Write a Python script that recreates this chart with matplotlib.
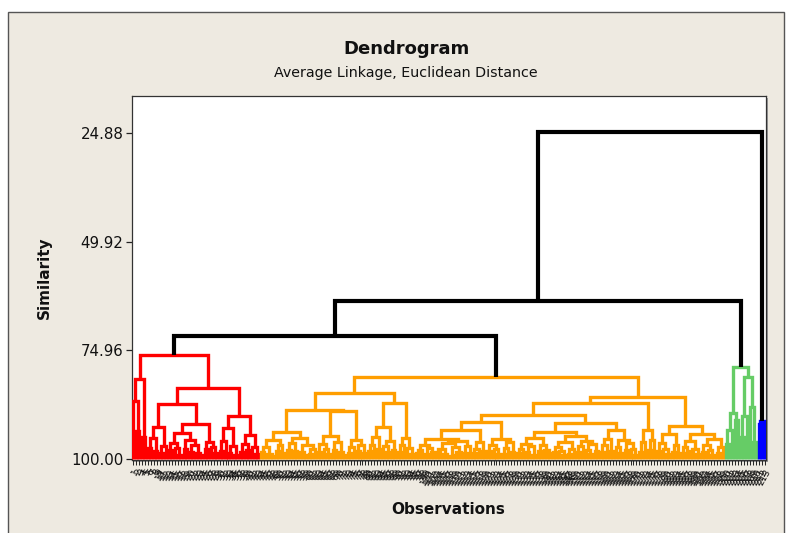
import matplotlib
matplotlib.use("Agg")
import matplotlib.pyplot as plt
from matplotlib.patches import Rectangle


def p(h):
    # two leaves joined at similarity h
    return (h, 0, 0)


# ---- cluster trees: (similarity, left, right), 0 = one observation ----
red_tree = (76.0,
            (81.5, (86.6, 0, (93.5, 0, 0)), (95.0, 0, 0)),
            (83.6,
             (87.3,
              (92.7, (95.2, p(97.5), p(98.2)), (97.1, p(98.6), 0)),
              (92.0,
               (94.0, (96.3, p(98.0), (97.4, 0, p(99.0))),
                (95.6, p(97.8), (96.9, p(98.4), (98.7, 0, p(99.1))))),
               (96.1, p(97.7), (97.3, 0, p(98.6))))),
             (90.2,
              (92.9, (95.8, p(98.1), 0), (97.0, p(98.7), p(99.2))),
              (94.4, (96.5, p(98.5), p(97.9)), (97.3, 0, p(98.8))))))

orange_x = (93.9,
            (95.6, (97.2, p(98.4), (98.9, 0, p(99.3))), (96.8, p(98.2), 0)),
            (95.1, (96.4, (97.9, p(98.6), 0), p(98.1)),
             (96.9, (98.3, 0, p(99.0)), (97.6, p(98.8), 0))))
orange_y = (94.8, (96.6, p(98.3), (97.7, 0, p(98.9))), (96.2, p(97.9), (98.5, 0, p(99.2))))
orange_z = (95.6, (97.3, p(98.6), 0), (96.9, p(98.1), p(98.7)))
orange_olb = (87.1,
              (92.6, (95.0, (96.8, p(98.2), 0), p(97.6)), (95.9, (97.1, 0, p(98.5)), p(98.0))),
              (95.1, (96.9, p(98.4), 0), (97.5, 0, p(98.8))))
orange_left = (84.8, (88.7, orange_x, (88.9, orange_y, orange_z)), orange_olb)

orange_a = (95.4,
            (96.8, (97.9, p(98.6), 0), (97.4, p(98.9), p(98.3))),
            (95.9, (96.3, (97.7, p(98.5), (98.9, 0, p(99.3))), (97.2, 0, (98.4, p(99.0), 0))),
             (97.0, p(98.6), 0)))
orange_b = (96.1, (97.8, p(98.7), 0), p(98.2))
orange_c = (95.4, (96.7, p(98.1), (97.6, 0, p(98.8))), (96.2, (97.4, p(98.9), 0), p(98.4)))
orange_d = (93.9,
            (95.2, (96.5, (97.8, p(98.6), 0), (97.1, p(98.3), p(99.0))),
             (96.8, p(98.1), (97.9, 0, p(98.7)))),
            (94.6, (96.0, (97.3, p(98.5), (98.2, 0, p(99.1))), (97.6, p(98.8), 0)),
             (95.8, (97.0, p(98.4), 0), (96.6, (97.9, 0, p(98.9)), p(98.2)))))
orange_e = (93.3, (95.3, (96.9, p(98.4), 0), p(98.1)),
            (95.7, (97.2, 0, p(98.6)), (96.4, p(98.0), (97.8, 0, p(99.0)))))
orange_f = (93.3, (96.2, p(98.3), 0), (95.6, p(97.9), 0))
orange_g = (94.3, (96.4, p(98.2), (97.7, 0, p(98.8))), (96.9, p(98.5), 0))
orange_h = (94.3, (95.9, (97.2, p(98.6), 0), (97.6, p(98.1), p(98.9))),
            (95.5, (96.8, p(98.3), (98.0, 0, p(99.1))), (97.3, p(98.7), 0)))
orange_right = (85.7,
                (87.0,
                 (89.9, (91.6, (93.3, orange_a, orange_b), orange_c),
                  (91.8, orange_d, orange_e)),
                 orange_f),
                (92.5, orange_g, orange_h))
orange_tree = (81.1, orange_left, orange_right)

green_tree = (78.8,
              (89.3, (93.3, p(96.5), 0), (91.0, 0, 0)),
              (81.0, (90.0, p(95.0), 0), (88.0, 0, p(96.0))))
blue_tree = (91.2, p(92.0), 0)

clusters = [red_tree, orange_tree, green_tree, blue_tree]
cluster_colors = ["#FF0000", "#FF9E00", "#66CC66", "#0000FF"]
# similarity of the black joins: red+orange, +green, +blue
black_joins = [71.6, 63.6, 24.5]

y_ticks = [24.88, 49.92, 74.96, 100.00]


fig = plt.figure(figsize=(7.92, 5.33), dpi=100)
fig.patch.set_facecolor("white")
fig.patches.append(Rectangle((7.5 / 792, -0.02), 776 / 792, 1.02 - 11.5 / 533,
                             transform=fig.transFigure, facecolor="#EEEAE1",
                             edgecolor="#555555", lw=1.0, zorder=-2))
# shadow behind the plot area
fig.patches.append(Rectangle((134 / 792, 1 - 462 / 533), 634.3 / 792, 364 / 533,
                             transform=fig.transFigure, facecolor="#9a9a9a",
                             edgecolor="none", zorder=-1))

ax = fig.add_axes([131.7 / 792, 1 - 460 / 533, 634.3 / 792, 364 / 533])
ax.set_zorder(1)
ax.set_facecolor("white")

counter = [0]


def draw(node, color, lw):
    if node == 0:
        x = counter[0]
        counter[0] += 1
        return x, 100.0
    h, a, b = node
    xa, ha = draw(a, color, lw)
    xb, hb = draw(b, color, lw)
    ax.plot([xa, xa, xb, xb], [ha, h, h, hb], color=color, lw=lw,
            solid_joinstyle="miter", solid_capstyle="butt", zorder=3)
    return (xa + xb) / 2, h


roots = []
for tree, col in zip(clusters, cluster_colors):
    roots.append(draw(tree, col, 2.4))

# black links above the clusters
x0, h0 = roots[0]
for (x1, h1), hj in zip(roots[1:], black_joins):
    ax.plot([x0, x0, x1, x1], [h0, hj, hj, h1], color="black", lw=3.0,
            solid_joinstyle="miter", solid_capstyle="butt", zorder=4)
    x0, h0 = (x0 + x1) / 2, hj

n_obs = counter[0]
obs_labels = [str(i) for i in range(1, n_obs + 1)]

ax.set_xlim(-0.5, n_obs - 0.5)
ax.set_ylim(100.25, 16.3)
ax.set_yticks(y_ticks)
ax.set_yticklabels(["%.2f" % v for v in y_ticks], fontsize=10.8, color="#111111")
ax.set_xticks(range(n_obs))
ax.set_xticklabels(obs_labels, rotation=60, ha="right", rotation_mode="anchor",
                   fontsize=6.5, color="#111111")
ax.tick_params(axis="y", length=4.5, width=0.9, pad=1.5, color="#222222")
ax.tick_params(axis="x", length=3.5, width=0.7, pad=2, color="#222222")
for s in ax.spines.values():
    s.set_color("#333333")
    s.set_linewidth(0.9)

fig.text(0.513, 1 - 49 / 533, "Dendrogram", ha="center", va="center",
         fontsize=13, fontweight="bold", color="#111111")
fig.text(0.513, 1 - 73 / 533, "Average Linkage, Euclidean Distance", ha="center",
         va="center", fontsize=10.3, color="#111111")
fig.text(44 / 792, 1 - 278 / 533, "Similarity", rotation=90, ha="center", va="center",
         fontsize=11, fontweight="bold", color="#111111")
fig.text(448 / 792, 1 - 509 / 533, "Observations", ha="center", va="center",
         fontsize=11, fontweight="bold", color="#111111")

fig.savefig("out.png", dpi=100, facecolor=fig.get_facecolor())
